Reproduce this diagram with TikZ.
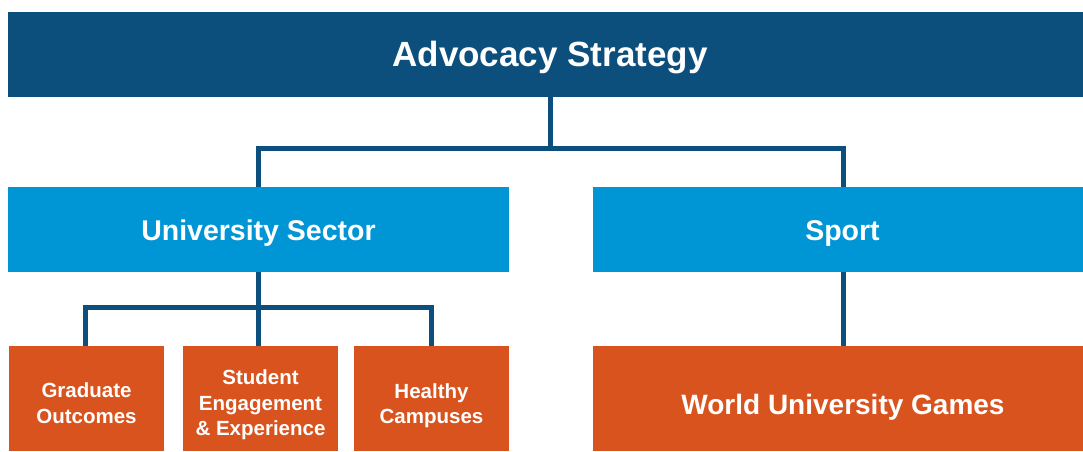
\documentclass[tikz,border=0pt]{standalone}
\usepackage{fontspec}
\setmainfont{Liberation Sans}
\definecolor{dblue}{HTML}{0D4F7C}
\definecolor{lblue}{HTML}{0096D6}
\definecolor{orng}{HTML}{D9531E}
\begin{document}
\begin{tikzpicture}[x=1pt,y=-1pt,
  box/.style={inner sep=0pt, outer sep=0pt, text=white, font=\bfseries, align=center},
  small/.style={box, font=\bfseries\fontsize{20.5}{25.5}\selectfont},
  conn/.style={draw=dblue, line width=5pt}]
\useasboundingbox (0,0) rectangle (1083,451);
% top
\fill[dblue] (8,12) rectangle (1083,97);
\node[box, anchor=base, font=\bfseries\fontsize{35}{38}\selectfont] (top) at (550,66.5) {Advocacy Strategy};
\coordinate (topb) at (550,97);
% second level
\fill[lblue] (8,187) rectangle (509,272);
\node[box, anchor=base, font=\bfseries\fontsize{28.5}{30}\selectfont] (uni) at (258.5,240) {University Sector};
\fill[lblue] (593,187) rectangle (1083,272);
\node[box, anchor=base, font=\bfseries\fontsize{28.5}{30}\selectfont] (sport) at (842.5,240) {Sport};
\coordinate (unit) at (258,187);
\coordinate (unib) at (258,272);
\coordinate (sportt) at (843,187);
\coordinate (sportb) at (843,272);
% bottom
\fill[orng] (9,346) rectangle (164,451);
\fill[orng] (183,346) rectangle (338,451);
\fill[orng] (354,346) rectangle (509,451);
\fill[orng] (593,346) rectangle (1083,451);
\node[small] (grad) at (86.5,403) {Graduate\\Outcomes};
\node[small] (stud) at (260.5,405) {Student\\Engagement\\\& Experience};
\node[small] (health) at (431.5,405.5) {Healthy\\Campuses};
\node[box, anchor=base, font=\bfseries\fontsize{28}{30}\selectfont] (wug) at (843,414) {World University Games};
\coordinate (gradt) at (85.5,346);
\coordinate (studt) at (258,346);
\coordinate (healtht) at (431.5,346);
\coordinate (wugt) at (843,346);
% connectors
\draw[conn] (topb) -- (550,148) -| (unit);
\draw[conn] (550,148) -| (sportt);
\draw[conn] (unib) -- (studt);
\draw[conn] (gradt) |- (258,307.5) -| (healtht);
\draw[conn] (sportb) -- (wugt);
\end{tikzpicture}
\end{document}
